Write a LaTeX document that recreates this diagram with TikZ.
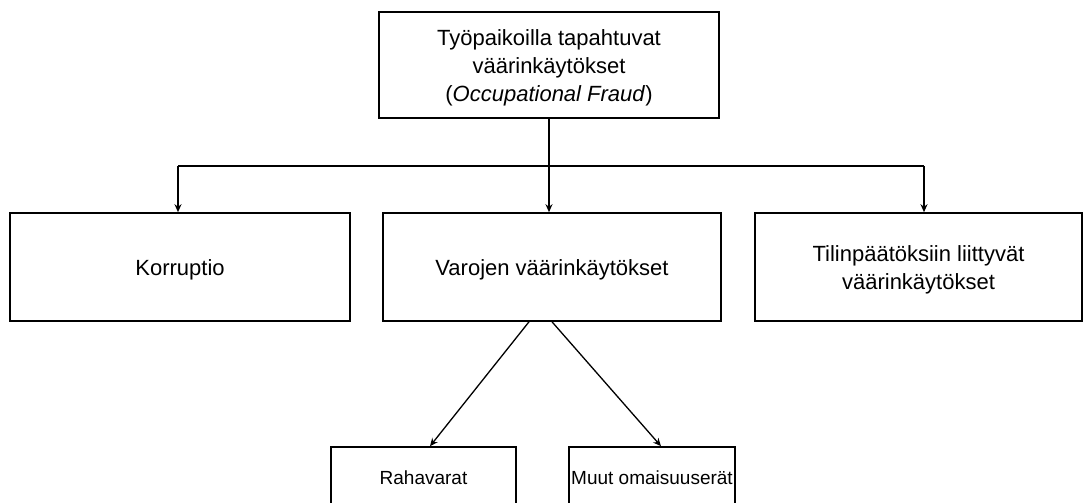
\documentclass[tikz,border=0pt]{standalone}
\usepackage{fontspec}
\setmainfont{Liberation Sans}
\usetikzlibrary{arrows.meta}
\newcommand{\lowtext}[1]{\raisebox{-3pt}[\height][\depth]{\begin{tabular}{@{}c@{}}#1\end{tabular}}}
\begin{document}
\begin{tikzpicture}[x=1pt,y=-1pt,
  box/.style={draw=black, line width=1.6pt, fill=white, rectangle, align=center, inner sep=0pt,
    font=\fontsize{22}{28}\selectfont},
  smallbox/.style={box, font=\fontsize{19}{24}\selectfont},
  arr/.style={line width=1.3pt, -{Stealth[length=8pt,width=7pt]}},
  conn/.style={line width=1.3pt}]
\clip (0,0) rectangle (1084,503);
\fill[white] (0,0) rectangle (1084,503);
\node[box, minimum width=340pt, minimum height=106pt] (top) at (549,65) {\lowtext{Työpaikoilla tapahtuvat\\väärinkäytökset\\(\textit{Occupational Fraud})}};
\node[box, minimum width=340pt, minimum height=108pt] (kor) at (180,267) {\lowtext{Korruptio}};
\node[box, minimum width=338pt, minimum height=108pt] (var) at (552,267) {\lowtext{Varojen väärinkäytökset}};
\node[box, minimum width=327pt, minimum height=108pt] (til) at (918.5,267) {\lowtext{Tilinpäätöksiin liittyvät\\väärinkäytökset}};
\node[smallbox, minimum width=185pt, minimum height=60pt] (raha) at (423.5,477) {\lowtext{Rahavarat}};
\node[smallbox, minimum width=166pt, minimum height=60pt] (muut) at (652,477) {\lowtext{Muut omaisuuserät}};
\coordinate (jl) at (178,166);
\coordinate (jr) at (924,166);
\draw[conn] (jl) -- (jr);
\draw[arr] (top.south) -- (top.south |- var.north);
\draw[arr] (jl) -- (jl |- kor.north);
\draw[arr] (jr) -- (jr |- til.north);
\draw[arr] ([xshift=-23pt]var.south) -- ([xshift=6.5pt]raha.north);
\draw[arr] (var.south) -- ([xshift=9pt]muut.north);
\end{tikzpicture}
\end{document}
